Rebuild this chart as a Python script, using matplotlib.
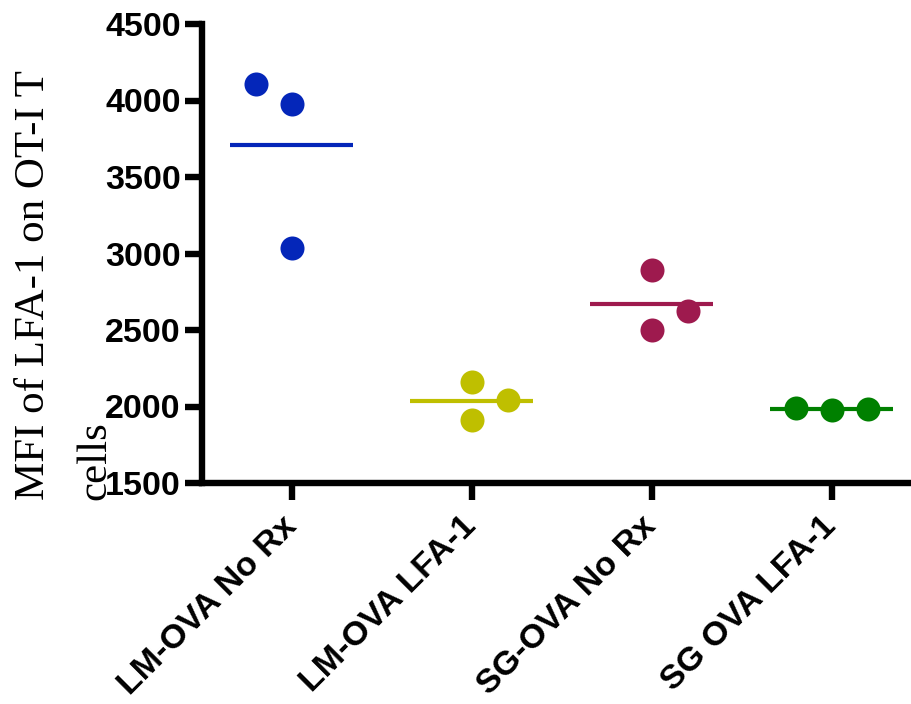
import matplotlib
matplotlib.use("Agg")
import matplotlib.pyplot as plt
import numpy as np

# ---- data ----
categories = ["LM-OVA No Rx", "LM-OVA LFA-1", "SG-OVA No Rx", "SG OVA LFA-1"]
lm_no_rx = [4111, 3976, 3037]
lm_lfa1 = [2158, 2043, 1912]
sg_no_rx = [2895, 2621, 2503]
sg_lfa1 = [1988, 1979, 1986]
y_ticks = [1500, 2000, 2500, 3000, 3500, 4000, 4500]
y_label = "MFI of LFA-1 on OT-I T\ncells"

# ---- style / layout ----
groups = [lm_no_rx, lm_lfa1, sg_no_rx, sg_lfa1]
colors = ["#0426B9", "#BFBF00", "#9E1A4E", "#008000"]
offsets = [[-0.2, 0, 0], [0, 0.2, 0], [0, 0.2, 0], [-0.2, 0, 0.2]]
W, H = 912, 704
lw = 4.6

fig = plt.figure(figsize=(W / 100, H / 100), dpi=100)
ax = fig.add_axes([201.7 / W, 1 - 483 / H, 720 / W, (483 - 24) / H])

for i, (vals, col, offs) in enumerate(zip(groups, colors, offsets)):
    m = np.mean(vals)
    ax.hlines(m, i - 0.343, i + 0.343, color=col, lw=3.0, zorder=2)
    ax.plot([i + o for o in offs], vals, "o", ms=17.3, color=col,
            mec="none", zorder=3, clip_on=False)

ax.set_xlim(-0.5, 3.5)
ax.set_ylim(1500, 4500)
for s in ["top", "right"]:
    ax.spines[s].set_visible(False)
for s in ["left", "bottom"]:
    ax.spines[s].set_linewidth(lw)

ax.set_yticks(y_ticks)
ax.set_yticklabels([str(t) for t in y_ticks], family="Liberation Sans",
                   fontweight="bold", fontsize=24.5)
ax.set_xticks(range(len(categories)))
ax.set_xticklabels(categories, family="Liberation Sans", fontweight="bold",
                   fontsize=24.5, rotation=45, ha="right", va="center",
                   rotation_mode="anchor")
ax.tick_params(axis="y", length=12, width=lw, direction="out", pad=3)
ax.tick_params(axis="x", length=12, width=lw, direction="out", pad=16)

fig.text(15 / W, 1 - 500 / H, y_label, rotation=90, ha="left", va="bottom",
         family="Liberation Serif", fontsize=31, linespacing=1.75,
         multialignment="left")

fig.savefig("out.png", dpi=100)
